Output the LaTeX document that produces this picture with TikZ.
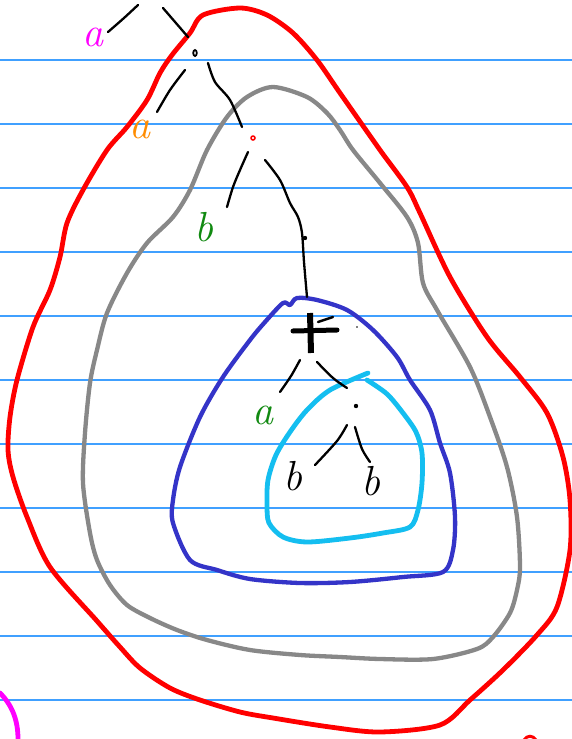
\documentclass[tikz,border=0pt]{standalone}
\usetikzlibrary{calc}
\definecolor{paperline}{HTML}{40A0FF}
\definecolor{penred}{HTML}{FF0000}
\definecolor{pengray}{HTML}{888888}
\definecolor{pennavy}{HTML}{3434C8}
\definecolor{pencyan}{HTML}{14BEF0}
\definecolor{penmag}{HTML}{FF00FF}
\definecolor{penorange}{HTML}{FF8C00}
\definecolor{pengreen}{HTML}{118A11}
\tikzset{
  ruled/.style={paperline, line width=1.3pt},
  loop/.style={line width=4.3pt, line cap=round, line join=round},
  stroke/.style={black, line width=2.3pt, line cap=round, line join=round},
  letter/.style={inner sep=0pt, font=\fontsize{42}{42}\selectfont\itshape},
}
\begin{document}
\begin{tikzpicture}[x=1pt,y=-1pt]
\useasboundingbox (0,0) rectangle (572,739);
\fill[white] (0,0) rectangle (572,739);
% ruled lines
\foreach \yy in {60,124,...,700} \draw[ruled] (0,\yy) -- (572,\yy);

% red loop
\draw[loop, penred, line width=4.8pt] plot[smooth cycle, tension=0.5] coordinates {
(203,15) (240,8) (267,15) (293,33) (317,60) (340,93) (380,150) (407,187) (420,213)
(450,277) (487,337) (520,377) (547,413) (563,457) (570,500) (570,550) (557,607)
(537,635) (503,670) (470,700) (440,725) (380,732) (330,727) (273,718) (240,712)
(200,700) (170,688) (140,668) (120,647) (97,621) (50,567) (27,517) (13,477)
(8,450) (10,417) (17,380) (33,327) (50,290) (60,257) (67,223) (83,190) (107,150)
(127,127) (147,100) (160,73) (172,55) (190,33)};

% gray loop
\draw[loop, pengray] plot[smooth cycle, tension=0.5] coordinates {
(273,87) (307,97) (327,113) (340,130) (353,150) (380,183) (407,217) (418,243)
(423,283) (437,310) (470,367) (490,417) (507,467) (517,517) (520,567) (517,590)
(510,613) (493,637) (477,649) (433,659) (380,659) (340,657) (300,655) (250,650)
(207,640) (177,630) (150,618) (127,605) (110,585) (97,560) (90,533) (83,483)
(85,433) (90,383) (97,350) (107,313) (127,273) (147,243) (173,217) (190,190)
(207,150) (227,117) (247,97)};

% navy loop
\draw[loop, pennavy] plot[smooth cycle, tension=0.5] coordinates {
(297,298) (317,300) (347,310) (373,330) (397,357) (410,380) (430,410) (440,443)
(450,473) (455,517) (453,550) (443,572) (403,577) (350,582) (300,583) (250,579)
(217,570) (190,560) (173,523) (173,500) (180,467) (200,417) (223,377) (250,340)
(265,322) (283,303) (290,305)};

% cyan loop (open at the top)
\draw[loop, pencyan, line width=4.8pt] plot[smooth, tension=0.5] coordinates {
(368,373) (330,390) (307,410) (290,432) (276,455) (268,480) (267,505) (269,523)
(283,537) (307,542) (350,538) (383,533) (410,527) (418,510) (422,483) (422,453)
(416,432) (403,413) (387,394) (367,380)};

% tree
\node[letter, penmag] (la1) at (93,37) {a};
\node[letter, penorange] (la2) at (140,129) {a};
\node[letter, pengreen] (lb1) at (204,227) {b};
\node[letter, pengreen] (la3) at (263,415) {a};
\node[letter] (lb2) at (293,476) {b};
\node[letter] (lb3) at (371,481) {b};

\coordinate (n1) at (195,53);
\coordinate (n2) at (253,138);
\coordinate (n3) at (305,238);
\coordinate (n5) at (356,406);

\draw[stroke] plot[smooth] coordinates {(138,5) (124,18) (108,32)};
\draw[stroke] (163,8) -- (188,37);
\draw[black, line width=1.8pt] (n1) ellipse (1.8pt and 3pt);
\draw[stroke] plot[smooth] coordinates {(185,70) (170,90) (157,112)};
\draw[stroke] plot[smooth] coordinates {(208,63) (215,82) (230,100) (242,127)};
\draw[penred, line width=1.5pt] (n2) circle (2pt);
\draw[stroke] plot[smooth] coordinates {(248,152) (240,170) (233,187) (227,207)};
\draw[stroke] plot[smooth] coordinates {(265,160) (280,180) (290,203) (298,217) (302,233) (304,262) (307,297)};
\fill (n3) circle (2.2pt);

% cross mark
\draw[black, line width=6pt] (310,313) -- (311,353);
\draw[black, line width=5pt, line cap=round] (293,331) -- (337,330);
\draw[black, line width=2.4pt, line cap=round] (318,322) -- (333,317);
\fill (357,327) circle (0.8pt);

\draw[stroke] plot[smooth] coordinates {(300,360) (291,376) (280,392)};
\draw[stroke] plot[smooth] coordinates {(317,362) (333,378) (347,388)};
\fill (n5) circle (2.2pt);
\draw[stroke] plot[smooth] coordinates {(347,425) (337,441) (315,465)};
\draw[stroke] plot[smooth] coordinates {(355,427) (362,449) (370,462)};

% stray marks at the bottom
\draw[loop, penmag, line width=4.8pt] (0,693) .. controls (12,705) and (18,720) .. (18,739);
\draw[penred, line width=3pt] (524,740) .. controls (527,735) and (533,735) .. (536,740);
\end{tikzpicture}
\end{document}
